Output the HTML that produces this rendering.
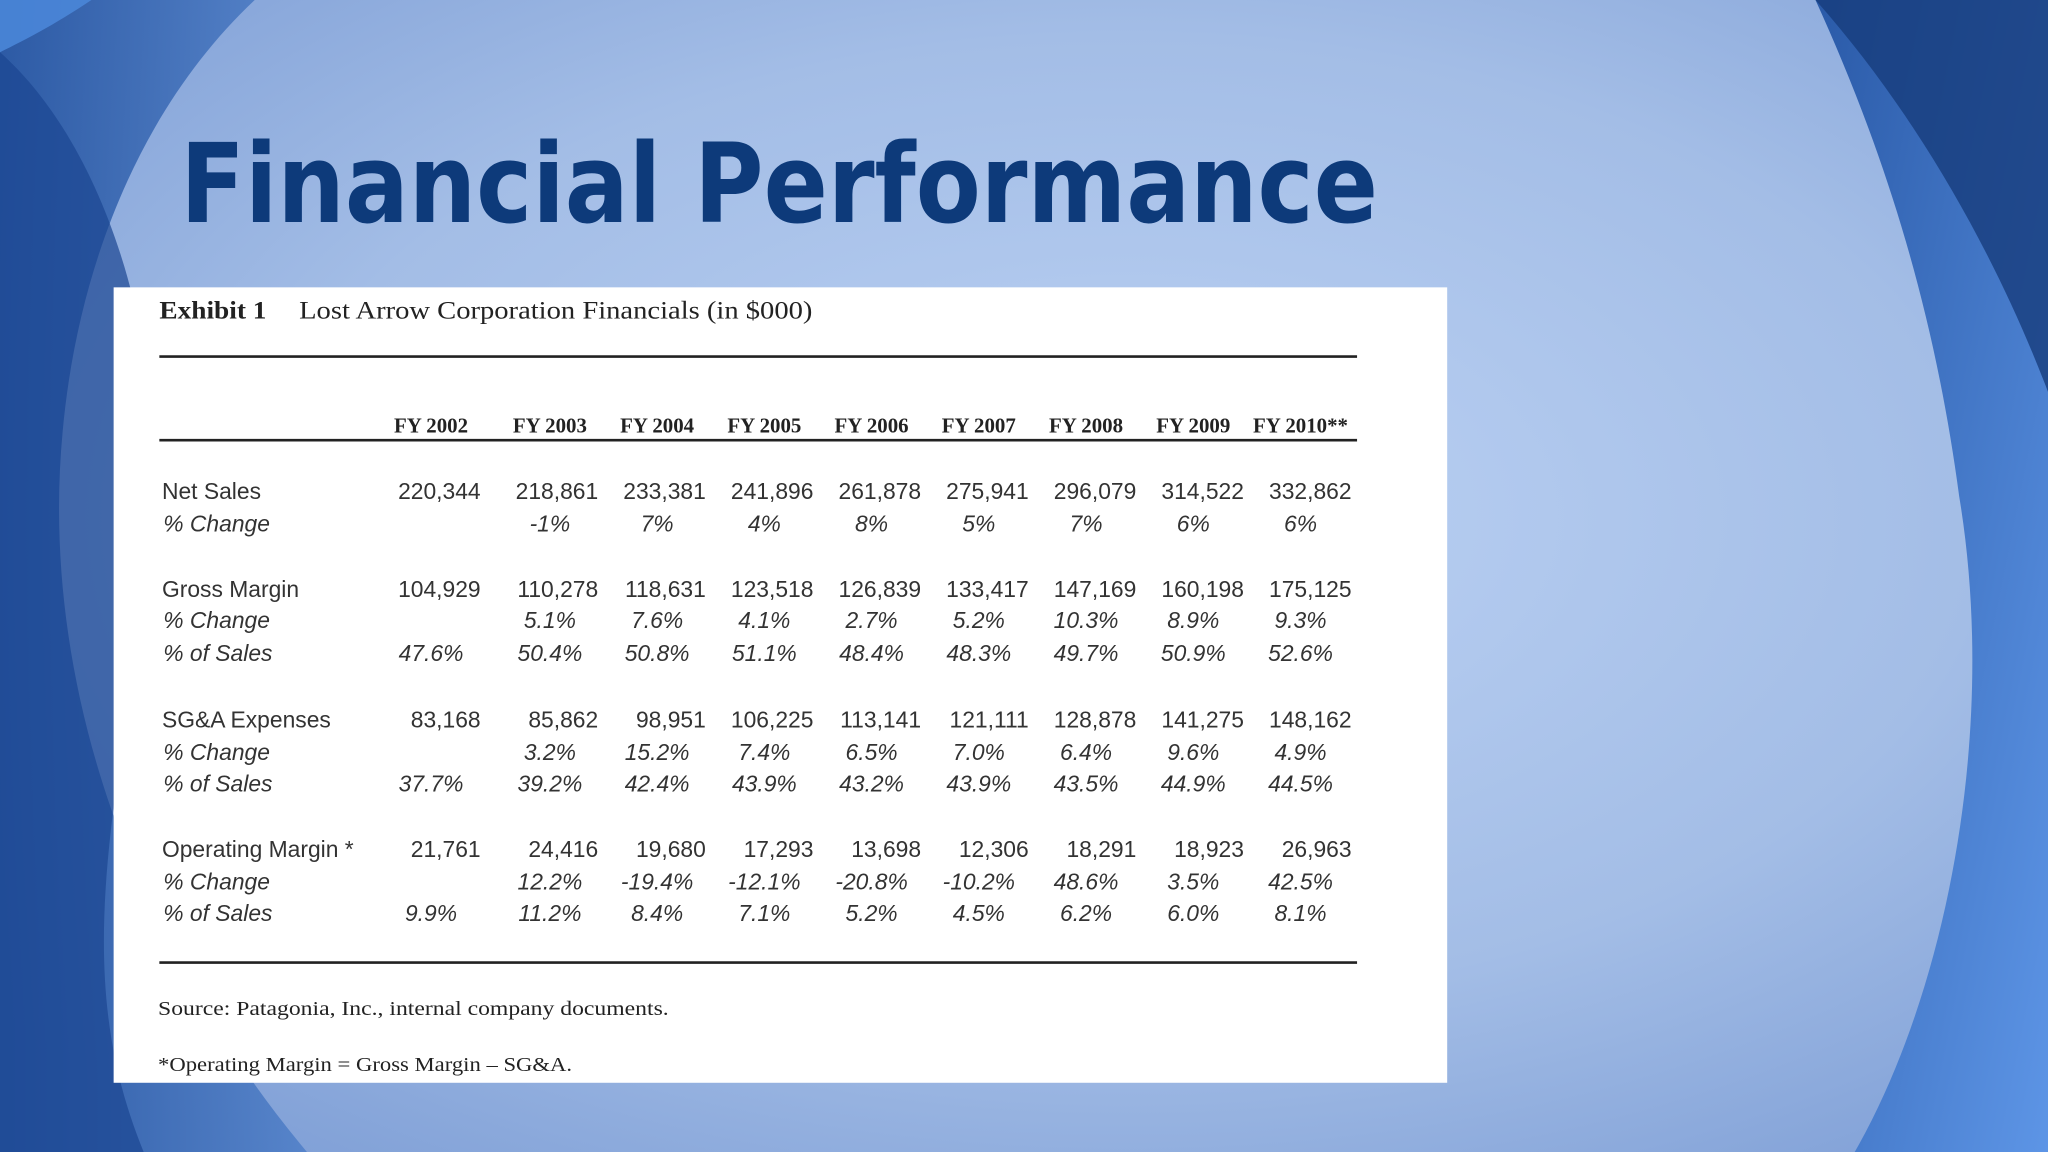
<!DOCTYPE html>
<html><head><meta charset="utf-8">
<style>
html,body{margin:0;padding:0;width:2048px;height:1152px;overflow:hidden;background:#a9c2ea;}
svg{display:block}
.sans{font-family:"Liberation Sans",sans-serif;fill:#333;}
.serif{font-family:"Liberation Serif",serif;fill:#222;}
</style></head>
<body>
<svg id="slide" width="2048" height="1152" viewBox="0 0 1568 882" xmlns="http://www.w3.org/2000/svg">
<defs>
<radialGradient id="bg" cx="0.55" cy="0.45" r="0.7">
<stop offset="0" stop-color="#bcd2f4"/><stop offset="0.6" stop-color="#a3bde6"/><stop offset="1" stop-color="#7f9fd6"/>
</radialGradient>
<linearGradient id="leftg" x1="0" y1="0" x2="1" y2="0">
<stop offset="0" stop-color="#1e4e9c"/><stop offset="1" stop-color="#4f7fc8"/>
</linearGradient>
<linearGradient id="rightg" x1="0" y1="0" x2="1" y2="1">
<stop offset="0" stop-color="#2a5aa8"/><stop offset="1" stop-color="#5d95e6"/>
</linearGradient>
</defs>
<rect x="0" y="0" width="1568" height="882" fill="url(#bg)"/>
<path d="M0,0 L195,0 C110,80 60,200 48,330 C30,520 100,720 235,882 L0,882 Z" fill="url(#leftg)" opacity="0.85"/>
<path d="M0,40 C90,120 140,300 110,470 C80,650 60,760 110,882 L0,882 Z" fill="#1b4691" opacity="0.7"/>
<path d="M0,0 L70,0 C40,20 20,30 0,40 Z" fill="#4a86d8" opacity="0.9"/>
<path d="M1390,0 L1568,0 L1568,882 L1420,882 C1490,760 1530,560 1500,380 C1480,230 1440,110 1390,0 Z" fill="url(#rightg)"/>
<path d="M1390,0 L1568,0 L1568,300 C1530,200 1470,90 1390,0 Z" fill="#163c7c" opacity="0.8"/>
<text x="138" y="170" font-family="DejaVu Sans, sans-serif" font-weight="bold" font-size="84" fill="#0d3a7a" textLength="917" lengthAdjust="spacingAndGlyphs">Financial Performance</text>
<g id="table">
<rect x="87" y="220" width="1021" height="609" fill="#fff"/>
<text class="serif" x="122" y="244" font-size="19" font-weight="bold" textLength="82" lengthAdjust="spacingAndGlyphs">Exhibit 1</text>
<text class="serif" x="229" y="244" font-size="19" textLength="393" lengthAdjust="spacingAndGlyphs">Lost Arrow Corporation Financials (in $000)</text>
<line x1="122" y1="273" x2="1039" y2="273" stroke="#222" stroke-width="2"/>
<line x1="122" y1="337" x2="1039" y2="337" stroke="#222" stroke-width="2"/>
<line x1="122" y1="737" x2="1039" y2="737" stroke="#222" stroke-width="2"/>
<text class="serif" x="121" y="777" font-size="15.5" textLength="391" lengthAdjust="spacingAndGlyphs">Source:  Patagonia, Inc., internal company documents.</text>
<text class="serif" x="121" y="820" font-size="15.5" textLength="317" lengthAdjust="spacingAndGlyphs">*Operating Margin = Gross Margin – SG&amp;A.</text>
</g>
</svg>
<script>
const years=["FY 2002","FY 2003","FY 2004","FY 2005","FY 2006","FY 2007","FY 2008","FY 2009","FY 2010**"];
const netSales=["220,344","218,861","233,381","241,896","261,878","275,941","296,079","314,522","332,862"];
const netSalesChg=["","-1%","7%","4%","8%","5%","7%","6%","6%"];
const grossMargin=["104,929","110,278","118,631","123,518","126,839","133,417","147,169","160,198","175,125"];
const gmChg=["","5.1%","7.6%","4.1%","2.7%","5.2%","10.3%","8.9%","9.3%"];
const gmPct=["47.6%","50.4%","50.8%","51.1%","48.4%","48.3%","49.7%","50.9%","52.6%"];
const sga=["83,168","85,862","98,951","106,225","113,141","121,111","128,878","141,275","148,162"];
const sgaChg=["","3.2%","15.2%","7.4%","6.5%","7.0%","6.4%","9.6%","4.9%"];
const sgaPct=["37.7%","39.2%","42.4%","43.9%","43.2%","43.9%","43.5%","44.9%","44.5%"];
const opMargin=["21,761","24,416","19,680","17,293","13,698","12,306","18,291","18,923","26,963"];
const opChg=["","12.2%","-19.4%","-12.1%","-20.8%","-10.2%","48.6%","3.5%","42.5%"];
const opPct=["9.9%","11.2%","8.4%","7.1%","5.2%","4.5%","6.2%","6.0%","8.1%"];

const rows=[
 {label:"Net Sales",vals:netSales,y:382,italic:false},
 {label:"% Change",vals:netSalesChg,y:407,italic:true},
 {label:"Gross Margin",vals:grossMargin,y:457,italic:false},
 {label:"% Change",vals:gmChg,y:481,italic:true},
 {label:"% of Sales",vals:gmPct,y:506,italic:true},
 {label:"SG&A Expenses",vals:sga,y:557,italic:false},
 {label:"% Change",vals:sgaChg,y:582,italic:true},
 {label:"% of Sales",vals:sgaPct,y:606,italic:true},
 {label:"Operating Margin *",vals:opMargin,y:656,italic:false},
 {label:"% Change",vals:opChg,y:681,italic:true},
 {label:"% of Sales",vals:opPct,y:705,italic:true}
];
const NS="http://www.w3.org/2000/svg";
const g=document.getElementById('table');
const colX=i=>i===0?330:421+82.1*(i-1);
const colRight=i=>i===0?368:458+82.4*(i-1);
function txt(s,x,y,cls,size,anchor,italic){
 const t=document.createElementNS(NS,'text');
 t.setAttribute('x',x);t.setAttribute('y',y);t.setAttribute('class',cls);
 t.setAttribute('font-size',size);t.setAttribute('text-anchor',anchor);
 if(italic)t.setAttribute('font-style','italic');
 t.textContent=s;g.appendChild(t);return t;
}
years.forEach((yr,i)=>{
 const t=txt(yr,colX(i)+(i==8?0:0),331,'serif',16,'middle',false);
 t.setAttribute('font-weight','bold');
 
 
});
rows.forEach(r=>{
 const l=txt(r.label,r.italic?125:124,r.y,'sans',17.5,'start',r.italic);
 
 
 r.vals.forEach((v,i)=>{
  if(!v)return;
  let t;
  if(r.italic) t=txt(v,colX(i),r.y,'sans',17.5,'middle',true);
  else t=txt(v,colRight(i),r.y,'sans',17.5,'end',false);
  
  
 });
});
</script>
</body></html>
